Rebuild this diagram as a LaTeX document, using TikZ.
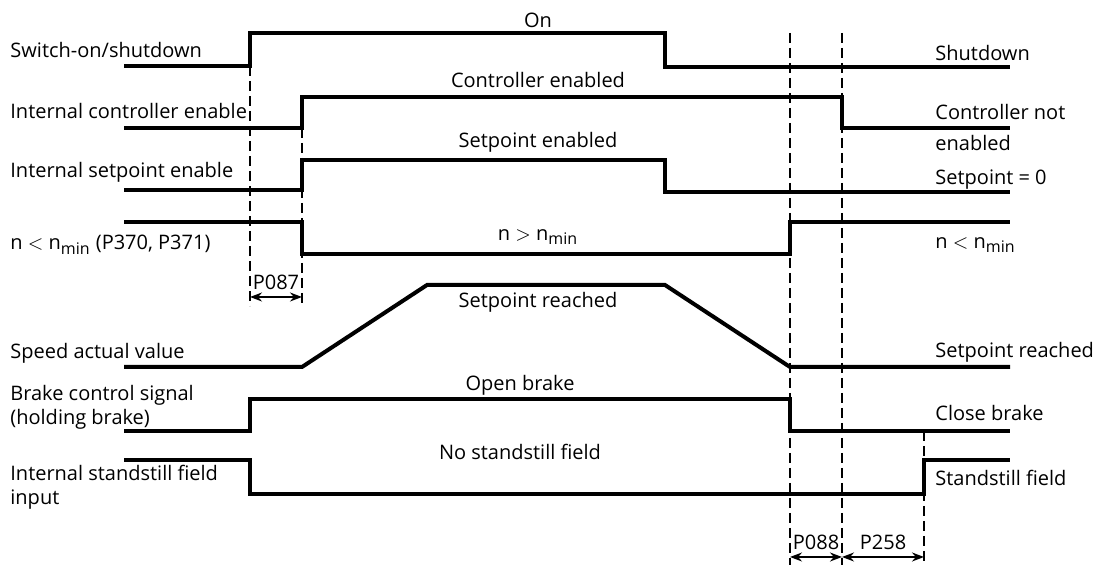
\documentclass[tikz,border=0pt]{standalone}
\usepackage{fontspec}
\setmainfont{Open Sans}
\usetikzlibrary{arrows.meta}

\begin{document}
\begin{tikzpicture}[x=0.5pt, y=-0.5pt, >={Stealth[length=6pt,width=4.5pt]},
  sig/.style={line width=2pt, line join=miter},
  guide/.style={line width=0.9pt, dash pattern=on 5pt off 2.5pt},
  span/.style={<->, line width=0.8pt},
  lbl/.style={font=\fontsize{10}{12}\selectfont, inner sep=0pt, align=left}]
\useasboundingbox (0,0) rectangle (1104,565);

% signal traces
\draw[sig] (124,66) -- (250,66) -- (250,33) -- (665,33) -- (665,67) -- (1010,67);
\draw[sig] (124,128) -- (302,128) -- (302,97) -- (842,97) -- (842,128) -- (1010,128);
\draw[sig] (124,190) -- (302,190) -- (302,160) -- (665,160) -- (665,192) -- (1010,192);
\draw[sig] (124,222) -- (302,222) -- (302,254) -- (790,254) -- (790,222) -- (1010,222);
\draw[sig] (124,367) -- (302,367) -- (427,285) -- (665,285) -- (790,367) -- (1010,367);
\draw[sig] (124,431) -- (250,431) -- (250,399) -- (790,399) -- (790,431) -- (1010,431);
\draw[sig] (124,460) -- (250,460) -- (250,494) -- (924,494) -- (924,460) -- (1010,460);

% time markers
\foreach \x/\ya/\yb in {250/66/306, 302/128/306, 790/33/565, 842/33/565, 924/431/565}
  \draw[guide] (\x,\ya) -- (\x,\yb);

% delay spans
\coordinate (p87a) at (250,297);
\coordinate (p87b) at (302,297);
\coordinate (p88a) at (790,557);
\coordinate (p88b) at (842,557);
\coordinate (p258b) at (924,557);
\draw[span] (p87a) -- (p87b);
\draw[span] (p88a) -- (p88b);
\draw[span] (p88b) -- (p258b);
\node[lbl] (p087) at (276,282) {P087};
\node[lbl] (p088) at (816,542) {P088};
\node[lbl] (p258) at (883,542) {P258};

% signal names
\node[lbl, anchor=west] (swon) at (10,50) {Switch-on/shutdown};
\node[lbl, anchor=west] (ctrl) at (10,111) {Internal controller enable};
\node[lbl, anchor=west] (spen) at (10,172) {Internal setpoint enable};
\node[lbl, anchor=west] (nmin) at (10,245) {n $<$ n\textsubscript{\fontsize{8}{9}\selectfont min} (P370, P371)};
\node[lbl, anchor=west] (speed) at (10,353) {Speed actual value};
\node[lbl, anchor=west] (brake) at (10,407) {Brake control signal\\(holding brake)};
\node[lbl, anchor=west] (still) at (10,487) {Internal standstill field\\input};

% states during operation
\node[lbl] (on) at (538,20) {On};
\node[lbl] (ctrlon) at (538,80) {Controller enabled};
\node[lbl] (spon) at (538,142) {Setpoint enabled};
\node[lbl] (nbig) at (538,237) {n $>$ n\textsubscript{\fontsize{8}{9}\selectfont min}};
\node[lbl] (sprch) at (538,302) {Setpoint reached};
\node[lbl] (open) at (520,385) {Open brake};
\node[lbl] (nost) at (520,452) {No standstill field};

% states after shutdown
\node[lbl, anchor=west] (shut) at (935,53) {Shutdown};
\node[lbl, anchor=west] (ctrloff) at (935,112) {Controller not};
\node[lbl, anchor=west] (ctrloff2) at (935,143) {enabled};
\node[lbl, anchor=west] (spzero) at (935,180) {Setpoint = 0};
\node[lbl, anchor=west] (nsmall) at (935,245) {n $<$ n\textsubscript{\fontsize{8}{9}\selectfont min}};
\node[lbl, anchor=west] (sprch2) at (935,352) {Setpoint reached};
\node[lbl, anchor=west] (close) at (935,413) {Close brake};
\node[lbl, anchor=west] (stfield) at (935,478) {Standstill field};
\end{tikzpicture}
\end{document}
